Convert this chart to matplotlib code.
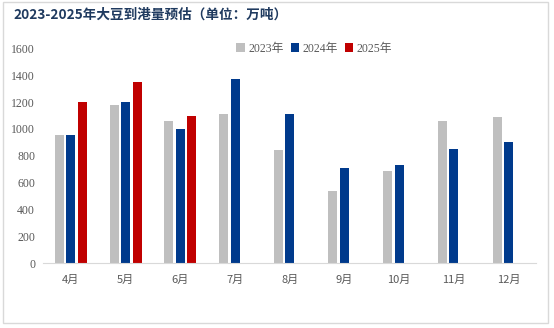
import numpy as np
import matplotlib.pyplot as plt
from matplotlib.patches import Rectangle

months = ["4月", "5月", "6月", "7月", "8月", "9月", "10月", "11月", "12月"]
y2023 = [958, 1176, 1057, 1109, 844, 538, 686, 1058, 1089]
y2024 = [955, 1203, 997, 1372, 1112, 707, 732, 848, 899]
y2025 = [1200, 1350, 1099, np.nan, np.nan, np.nan, np.nan, np.nan, np.nan]
series = ["2023年", "2024年", "2025年"]
colors = ["#BFBFBF", "#003A8C", "#C00000"]

serif = ["Liberation Serif", "Noto Sans CJK SC"]
cjk = ["Noto Sans CJK SC", "DejaVu Sans"]

fig = plt.figure(figsize=(5.54, 3.28), dpi=100)
ax = fig.add_axes([0.0785, 0.197, 0.889, 0.656])

# light frame around the whole picture
fig.patches.append(Rectangle((0.005, 0.015), 0.985, 0.978, transform=fig.transFigure,
                             fill=False, edgecolor="#D9D9D9", linewidth=1.0))

x = np.arange(len(months))
w = 0.165
off = 0.21
for i, (vals, lab, c) in enumerate(zip([y2023, y2024, y2025], series, colors)):
    ax.bar(x + (i - 1) * off, vals, width=w, color=c, label=lab)

ax.set_xlim(-0.5, len(months) - 0.5)
ax.set_ylim(0, 1600)
ax.set_yticks(range(0, 1601, 200))
ax.set_yticklabels([str(v) for v in range(0, 1601, 200)], family=serif, fontsize=8.5, color="#595959")
ax.set_xticks(x)
ax.set_xticklabels(months, family=cjk, fontsize=8, color="#595959")
ax.tick_params(axis="both", length=0)
ax.tick_params(axis="x", pad=8)
ax.tick_params(axis="y", pad=6)

for s in ["top", "right", "left"]:
    ax.spines[s].set_visible(False)
ax.spines["bottom"].set_color("#D9D9D9")

ax.legend(loc="upper center", bbox_to_anchor=(0.55, 1.075), ncol=3, frameon=False,
          prop={"family": serif, "size": 8.5}, handlelength=0.7, handleheight=0.7,
          handletextpad=0.3, columnspacing=0.6, labelcolor="#595959")

fig.text(0.024, 0.955, "2023-2025年大豆到港量预估（单位：万吨）", family=cjk,
         fontsize=9.8, fontweight="bold", color="#1F3A5F", va="center", ha="left")

fig.savefig("out.png", dpi=100)
